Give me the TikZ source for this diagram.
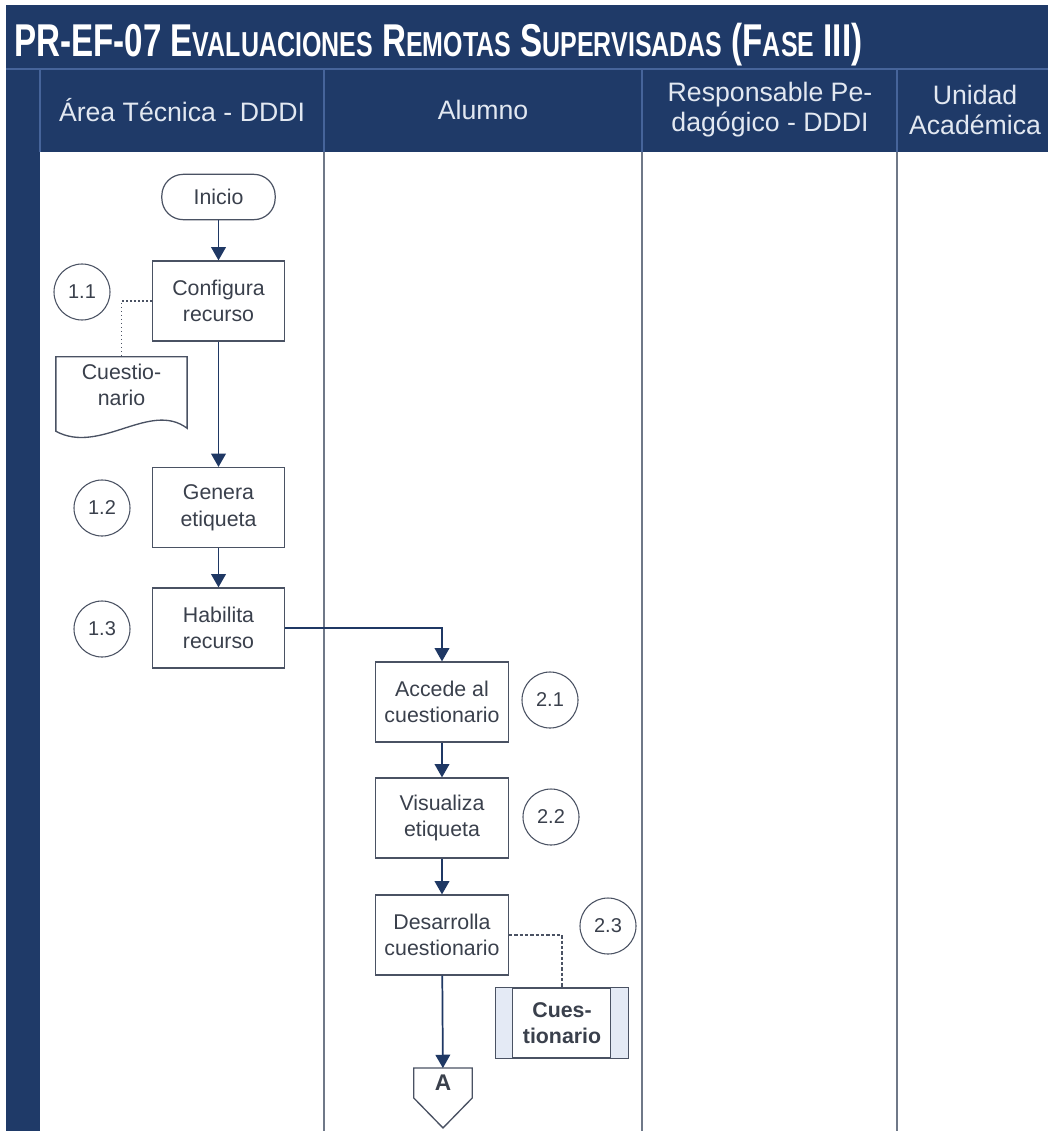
\documentclass[tikz,border=0pt]{standalone}
\usepackage{fontspec}
\setmainfont{Liberation Sans}
\usetikzlibrary{positioning,calc,arrows.meta}
\definecolor{cNavy}{HTML}{1F3A68}
\definecolor{cHead}{HTML}{E2E8F1}
\definecolor{cRule}{HTML}{46649A}
\definecolor{cLane}{HTML}{6F7888}
\definecolor{cBox}{HTML}{4A5263}
\definecolor{cInk}{HTML}{3A404C}
\definecolor{cArrow}{HTML}{1F3864}
\definecolor{cStrip}{HTML}{E4EAF5}
\tikzset{
  headrule/.style={draw=cRule, line width=0.8pt},
  laneline/.style={draw=cLane, line width=1.1pt},
  lanehead/.style={text=cHead, font=\fontsize{20}{22.5}\selectfont, align=center},
  proc/.style={draw=cBox, fill=white, line width=0.9pt, minimum width=99.5pt,
    minimum height=60pt, align=center, text=cInk, inner sep=2pt,
    font=\fontsize{16}{20}\selectfont},
  term/.style={draw=cBox, fill=white, line width=0.9pt, rounded corners=16pt,
    minimum width=85pt, minimum height=34pt, text=cInk,
    font=\fontsize{16}{20}\selectfont},
  num/.style={circle, draw=cBox, line width=0.8pt, minimum size=42pt,
    inner sep=0pt, text=cInk, font=\fontsize{15}{18}\selectfont},
  doctext/.style={minimum width=98pt, minimum height=42pt, align=center,
    text=cInk, inner sep=0pt, font=\fontsize{16}{20}\selectfont},
  store/.style={draw=cBox, fill=white, line width=0.9pt, minimum width=99pt,
    minimum height=52.5pt, align=center, text=cInk, inner sep=0pt,
    font=\bfseries\fontsize{16}{20}\selectfont},
  arrow/.style={-{Triangle[length=10pt,width=11pt]}, line width=1.3pt, draw=cArrow},
  link/.style={draw=cBox, line width=1pt},
}
\newcommand{\smc}[1]{{\fontsize{26}{30}\selectfont #1}}

\begin{document}
\begin{tikzpicture}[x=0.75pt, y=-0.75pt]
  \useasboundingbox (0,0) rectangle (1048,1131);
  \fill[white] (0,0) rectangle (1048,1131);

  % ---------- frame and lanes ----------
  \fill[cNavy] (6,5) rectangle (1048,1131);
  \fill[white] (40,152) rectangle (1048,1131);
  \draw[headrule] (6,69) -- (1048,69);
  \foreach \xl in {40,324,642,897} {
    \draw[headrule] (\xl,69) -- (\xl,152);
  }
  \foreach \xl in {324,642,897} {
    \draw[laneline] (\xl,152) -- (\xl,1131);
  }

  % ---------- title ----------
  \node[anchor=base west, text=white, inner sep=0pt,
        font=\bfseries\fontsize{34.5}{40}\selectfont] (title) at (14,57)
    {\resizebox{636pt}{\height}{PR-EF-07 E\smc{VALUACIONES} R\smc{EMOTAS} S\smc{UPERVISADAS} (F\smc{ASE} III)}};

  % ---------- lane headers ----------
  \node[lanehead] (h1) at (182,110) {Área Técnica - DDDI};
  \node[lanehead] (h2) at (483,110) {Alumno};
  \node[lanehead] (h3) at (770,110) {Responsable Pe-\\dagógico - DDDI};
  \node[lanehead] (h4) at (975,110) {Unidad\\Académica};

  % ---------- steps ----------
  \node[term] (ini) at (218.5,197) {Inicio};
  \node[proc] (conf) at (218.5,301) {Configura\\recurso};
  \node[proc] (gen) at (218.5,507.5) {Genera\\etiqueta};
  \node[proc] (hab) at (218.5,628) {Habilita\\recurso};
  \node[proc] (acc) at (442,702) {Accede al\\cuestionario};
  \node[proc] (vis) at (442,818) {Visualiza\\etiqueta};
  \node[proc] (des) at (442,935) {Desarrolla\\cuestionario};

  % ---------- step numbers ----------
  \node[num] (n11) at (82,292) {1.1};
  \node[num] (n12) at (102,508) {1.2};
  \node[num] (n13) at (102,629) {1.3};
  \node[num] (n21) at (550,700) {2.1};
  \node[num] (n22) at (551,817) {2.2};
  \node[num] (n23) at (608,926) {2.3};

  % ---------- documents ----------
  \node[doctext] (doc) at (121.5,385) {Cuestio-\\nario};
  \draw[link] (doc.north west) -- (doc.north east) -- ($(doc.south east)+(0,15)$)
    .. controls ($(doc.south east)+(-37,-13)$) and ($(doc.south east)+(-87,42)$)
    .. ($(doc.south west)+(0,18)$) -- cycle;

  \node[store] (cues) at (562,1023) {Cues-\\tionario};
  \filldraw[fill=cStrip, link] (cues.north west) rectangle ($(cues.south west)+(17,0)$);
  \filldraw[fill=cStrip, link] ($(cues.north east)+(-18,0)$) rectangle (cues.south east);

  % ---------- off-page connector ----------
  \node[minimum width=43.5pt, minimum height=22pt, inner sep=0pt, text=cInk,
        font=\bfseries\fontsize{17}{20}\selectfont] (conA) at (443,1083) {A};
  \draw[link] (conA.north west) -- (conA.north east) -- (conA.south east)
    -- ($(conA.south)+(0,30)$) -- (conA.south west) -- cycle;

  % ---------- arrows ----------
  \draw[arrow] (ini) -- (conf);
  \draw[arrow] (conf) -- (gen);
  \draw[arrow] (gen) -- (hab);
  \draw[arrow] (hab.east) -| (acc.north);
  \draw[arrow] (acc) -- (vis);
  \draw[arrow] (vis) -- (des);
  \draw[arrow] (des) -- (conA);
  \draw[link, dotted] (conf.west) -| (doc.north);
  \draw[link, dash pattern=on 2.5pt off 1.5pt] (des.east) -| (cues.north);

\end{tikzpicture}
\end{document}
